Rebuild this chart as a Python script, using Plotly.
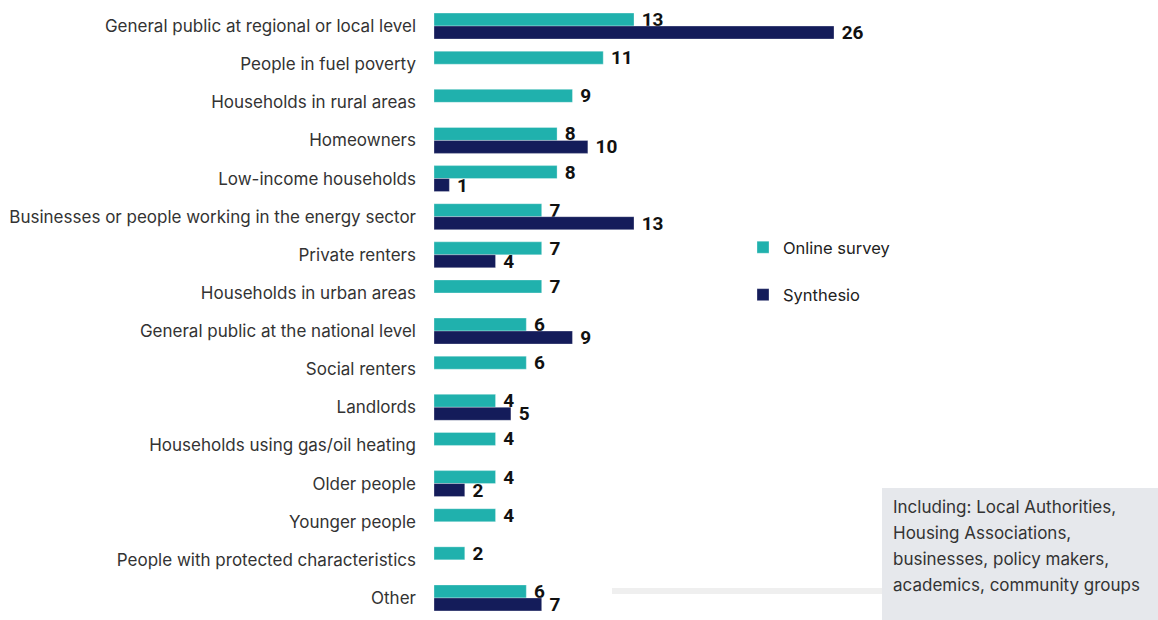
import plotly.graph_objects as go

categories = [
    "General public at regional or local level",
    "People in fuel poverty",
    "Households in rural areas",
    "Homeowners",
    "Low-income households",
    "Businesses or people working in the energy sector",
    "Private renters",
    "Households in urban areas",
    "General public at the national level",
    "Social renters",
    "Landlords",
    "Households using gas/oil heating",
    "Older people",
    "Younger people",
    "People with protected characteristics",
    "Other",
]
online_survey = [13, 11, 9, 8, 8, 7, 7, 7, 6, 6, 4, 4, 4, 4, 2, 6]
synthesio = [26, None, None, 10, 1, 13, 4, None, 9, None, 5, None, 2, None, None, 7]
note_lines = ["Including: Local Authorities,", "Housing Associations,",
              "businesses, policy makers,", "academics, community groups"]

TEAL = "#20B1AD"
NAVY = "#141C5A"
FONT = "Inter"

W, H = 1158, 620
ML, MR, MT, MB = 434, 0, 7, 3
pw, ph = W - ML - MR, H - MT - MB

def px_x(px):
    return (px - ML) / pw

def px_y(py):
    return (H - MB - py) / ph

fig = go.Figure()
for name, vals, col, grp in [("Online survey", online_survey, TEAL, "a"),
                             ("Synthesio", synthesio, NAVY, "b")]:
    fig.add_trace(go.Bar(
        y=categories, x=vals, orientation="h", name=name,
        marker=dict(color=col, line=dict(color="rgba(255,255,255,0.6)", width=0.5)),
        text=[("" if v is None else f" {v}") for v in vals],
        textposition="outside", cliponaxis=False, constraintext="none",
        textfont=dict(family="Roboto", size=19, color="#111111", weight="bold"),
        legendgroup=grp,
    ))

annotations = []
for i, line in enumerate(note_lines):
    annotations.append(dict(
        xref="paper", yref="paper", x=px_x(891), y=px_y(507 + i * 26),
        xanchor="left", yanchor="middle", align="left", showarrow=False,
        text=line, font=dict(family=FONT, size=17, color="#333333")))

fig.update_layout(
    width=W, height=H,
    margin=dict(l=ML, r=MR, t=MT, b=MB),
    barmode="group", bargap=0.32, bargroupgap=0.0,
    plot_bgcolor="white", paper_bgcolor="white",
    font=dict(family=FONT, color="#333333", size=16),
    showlegend=True,
    legend=dict(x=px_x(743), y=px_y(230), xanchor="left", yanchor="top",
                font=dict(family=FONT, size=16.5, color="#222222"),
                tracegroupgap=23, itemwidth=30, bgcolor="rgba(0,0,0,0)"),
    xaxis=dict(range=[0, pw / (400 / 26)], visible=False, showgrid=False, zeroline=False),
    yaxis=dict(autorange="reversed", showgrid=False, zeroline=False, showline=False,
               ticks="", ticklabelstandoff=17,
               tickfont=dict(family=FONT, size=17, color="#333333")),
    shapes=[
        dict(type="rect", xref="paper", yref="paper",
             x0=px_x(612), x1=px_x(884), y0=px_y(594), y1=px_y(588),
             fillcolor="#EFEFEF", line=dict(width=0), layer="below"),
        dict(type="rect", xref="paper", yref="paper",
             x0=px_x(882), x1=px_x(1158), y0=px_y(620), y1=px_y(488),
             fillcolor="#E6E8EC", line=dict(width=0), layer="above"),
    ],
    annotations=annotations,
)

fig.write_html("out.html")
